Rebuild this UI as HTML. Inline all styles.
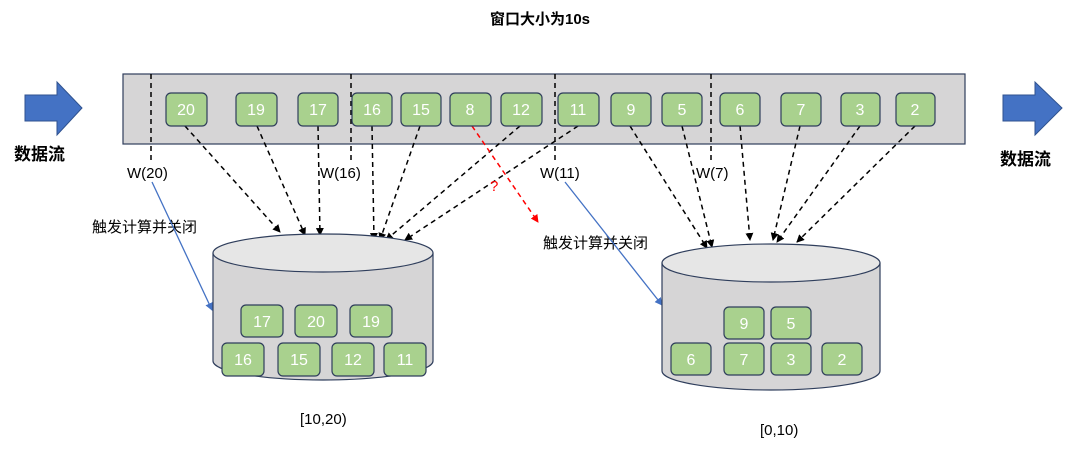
<!DOCTYPE html>
<html><head><meta charset="utf-8"><style>
body{margin:0;background:#fff;width:1080px;height:449px;overflow:hidden;font-family:"Liberation Sans","Noto Sans CJK SC",sans-serif}
</style></head><body>
<svg width="1080" height="449" xmlns="http://www.w3.org/2000/svg" font-family="Liberation Sans, Noto Sans CJK SC, sans-serif">
<defs>
<marker id="a" markerWidth="8" markerHeight="8" refX="7" refY="4" orient="auto" markerUnits="userSpaceOnUse"><path d="M0,0 L8,4 L0,8 z" fill="#000"/></marker>
<marker id="r" markerWidth="8" markerHeight="8" refX="7" refY="4" orient="auto" markerUnits="userSpaceOnUse"><path d="M0,0 L8,4 L0,8 z" fill="#f00"/></marker>
<marker id="b" markerWidth="8" markerHeight="8" refX="7" refY="4" orient="auto" markerUnits="userSpaceOnUse"><path d="M0,0 L8,4 L0,8 z" fill="#4472c4"/></marker>
</defs>
<text x="540" y="24" font-size="15" font-weight="bold" text-anchor="middle" fill="#000">窗口大小为10s</text>
<path d="M25,95 H57 V82 L82,108 L57,135 V121 H25 Z" fill="#4472c4" stroke="#2f528f"/>
<text x="14" y="160" font-size="17" font-weight="bold">数据流</text>
<path d="M1003,95 H1035 V82 L1062,108 L1035,135 V121 H1003 Z" fill="#4472c4" stroke="#2f528f"/>
<text x="1000" y="165" font-size="17" font-weight="bold">数据流</text>
<rect x="123" y="74" width="842" height="70" fill="#d6d5d6" stroke="#2f3e5c" stroke-width="1.2"/>
<g stroke="#000" stroke-width="1.5" stroke-dasharray="5,4">
<line x1="151" y1="74" x2="151" y2="160"/><line x1="351" y1="74" x2="351" y2="160"/>
<line x1="555" y1="74" x2="555" y2="160"/><line x1="711" y1="74" x2="711" y2="160"/>
</g>
<g font-size="15" fill="#000">
<text x="127" y="178">W(20)</text><text x="320" y="178">W(16)</text><text x="540" y="178">W(11)</text><text x="696" y="178">W(7)</text>
<text x="92" y="232">触发计算并关闭</text><text x="543" y="248">触发计算并关闭</text>
<text x="300" y="424">[10,20)</text><text x="760" y="435">[0,10)</text>
</g>
<g stroke="#000" stroke-width="1.5" stroke-dasharray="5,4" marker-end="url(#a)">
<line x1="185" y1="126" x2="280" y2="232"/><line x1="257" y1="126" x2="305" y2="235"/>
<line x1="318" y1="126" x2="320" y2="235"/><line x1="372" y1="126" x2="374" y2="240"/>
<line x1="420" y1="126" x2="380" y2="240"/><line x1="520" y1="126" x2="386" y2="240"/>
<line x1="578" y1="126" x2="405" y2="240"/>
<line x1="630" y1="126" x2="707" y2="248"/><line x1="682" y1="126" x2="712" y2="247"/>
<line x1="740" y1="126" x2="750" y2="240"/><line x1="800" y1="126" x2="773" y2="240"/>
<line x1="860" y1="126" x2="777" y2="242"/><line x1="915" y1="126" x2="797" y2="242"/>
</g>
<line x1="472" y1="126" x2="538" y2="222" stroke="#f00" stroke-width="1.5" stroke-dasharray="5,4" marker-end="url(#r)"/>
<text x="490" y="191" font-size="15" fill="#f00">?</text>
<line x1="152" y1="182" x2="212" y2="310" stroke="#4472c4" stroke-width="1.3" marker-end="url(#b)"/>
<line x1="565" y1="182" x2="662" y2="305" stroke="#4472c4" stroke-width="1.3" marker-end="url(#b)"/>
<g stroke="#2f3e5c" stroke-width="1.2">
<path d="M213,253 V361 A110,19 0 0 0 433,361 V253" fill="#d6d5d6"/>
<ellipse cx="323" cy="253" rx="110" ry="19" fill="#e6e6e6"/>
<path d="M662,263 V371 A109,19 0 0 0 880,371 V263" fill="#d6d5d6"/>
<ellipse cx="771" cy="263" rx="109" ry="19" fill="#e6e6e6"/>
</g>
<g fill="#a9d18e" stroke="#2f3e5c" stroke-width="1.2">
<rect x="166" y="93" width="41" height="33" rx="5"/><rect x="236" y="93" width="41" height="33" rx="5"/>
<rect x="298" y="93" width="40" height="33" rx="5"/><rect x="352" y="93" width="40" height="33" rx="5"/>
<rect x="401" y="93" width="40" height="33" rx="5"/><rect x="450" y="93" width="41" height="33" rx="5"/>
<rect x="501" y="93" width="41" height="33" rx="5"/><rect x="558" y="93" width="41" height="33" rx="5"/>
<rect x="611" y="93" width="40" height="33" rx="5"/><rect x="662" y="93" width="40" height="33" rx="5"/>
<rect x="720" y="93" width="40" height="33" rx="5"/><rect x="781" y="93" width="40" height="33" rx="5"/>
<rect x="841" y="93" width="39" height="33" rx="5"/><rect x="896" y="93" width="39" height="33" rx="5"/>
<rect x="241" y="305" width="42" height="32" rx="5"/><rect x="295" y="305" width="42" height="32" rx="5"/>
<rect x="350" y="305" width="42" height="32" rx="5"/>
<rect x="222" y="343" width="42" height="33" rx="5"/><rect x="278" y="343" width="42" height="33" rx="5"/>
<rect x="332" y="343" width="42" height="33" rx="5"/><rect x="384" y="343" width="42" height="33" rx="5"/>
<rect x="724" y="307" width="40" height="32" rx="5"/><rect x="771" y="307" width="40" height="32" rx="5"/>
<rect x="671" y="343" width="40" height="32" rx="5"/><rect x="724" y="343" width="40" height="32" rx="5"/>
<rect x="771" y="343" width="40" height="32" rx="5"/><rect x="822" y="343" width="40" height="32" rx="5"/>
</g>
<g fill="#fff" font-size="16" text-anchor="middle">
<text x="186" y="115">20</text><text x="256" y="115">19</text><text x="318" y="115">17</text><text x="372" y="115">16</text>
<text x="421" y="115">15</text><text x="470" y="115">8</text><text x="521" y="115">12</text><text x="578" y="115">11</text>
<text x="631" y="115">9</text><text x="682" y="115">5</text><text x="740" y="115">6</text><text x="801" y="115">7</text>
<text x="860" y="115">3</text><text x="915" y="115">2</text>
<text x="262" y="327">17</text><text x="316" y="327">20</text><text x="371" y="327">19</text>
<text x="243" y="365">16</text><text x="299" y="365">15</text><text x="353" y="365">12</text><text x="405" y="365">11</text>
<text x="744" y="329">9</text><text x="791" y="329">5</text>
<text x="691" y="365">6</text><text x="744" y="365">7</text><text x="791" y="365">3</text><text x="842" y="365">2</text>
</g>
</svg>
</body></html>
